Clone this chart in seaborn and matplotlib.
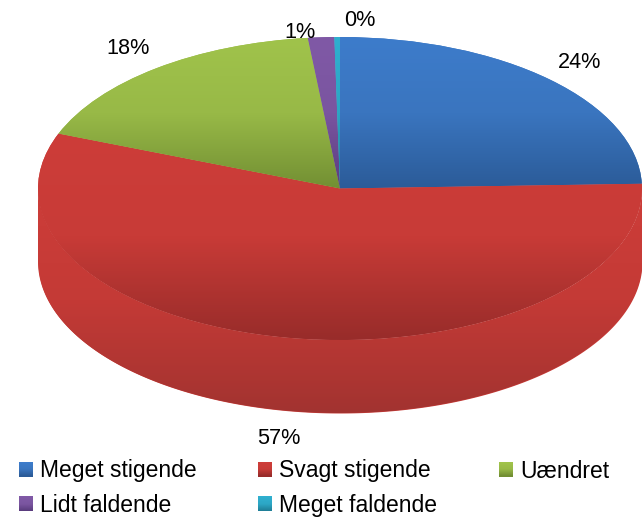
import numpy as np
import seaborn as sns
import matplotlib.pyplot as plt
from matplotlib.legend_handler import HandlerBase
from matplotlib.patches import Patch, Rectangle

W, H = 642, 518

# slices, clockwise from 12 o'clock
categories = ['Meget stigende', 'Svagt stigende', 'Uændret', 'Lidt faldende', 'Meget faldende']
values = [24.5, 56.4, 17.4, 1.4, 0.3]
pct_labels = ['24%', '57%', '18%', '1%', '0%']

# gradient stops of each slice, top / middle / bottom
tops = ['#3d7ccb', '#cd3d39', '#a0c34b', '#8059a6', '#2fafcf']
mids = ['#3a75bf', '#c83b37', '#98b947', '#7a55a0', '#2ca6c4']
bottoms = ['#2b5b98', '#982c2a', '#728f33', '#5a3c7e', '#1f7f98']
wall_stops = ['#a23330', '#c43a36', '#cd3d39']

# pixel layout of the pie and the percent labels
cx, cy, rx, ry, depth = 340, 188.5, 302, 151.5, 73
label_pos = [(580, 62), (279, 439), (128, 49), (300, 32), (360, 21)]

sns.set_theme(style='white')
plt.rcParams['font.family'] = ['Liberation Sans', 'DejaVu Sans']

fig = plt.figure(figsize=(W / 100, H / 100), dpi=100)
ax = fig.add_axes([0, 0, 1, 1])


def gradient(stops, y0, y1, clip, transform=None, z=2):
  cmap = sns.blend_palette(stops, as_cmap=True)
  im = ax.imshow(np.linspace(1, 0, 256).reshape(-1, 1), cmap=cmap, vmin=0, vmax=1,
                 extent=(-1, 1, y0, y1), origin='upper', aspect='auto', zorder=z)
  if transform is None:
    im.set_clip_path(clip)
  else:
    im.set_clip_path(clip, transform)


wedges, _ = ax.pie(values, startangle=90, counterclock=False, radius=1, colors=mids,
                   wedgeprops={'linewidth': 0, 'zorder': 1.5})

# side wall of the cake, only the red slice is seen from the front
t = np.linspace(np.pi, 2 * np.pi, 300)
wall = ax.fill_between(np.cos(t), np.sin(t) - depth / ry, np.sin(t), color=mids[1], lw=0, zorder=1)
gradient(wall_stops, -1 - depth / ry, 0, wall.get_paths()[0], ax.transData, z=1.2)

for i, w in enumerate(wedges):
  box = w.get_path().get_extents()
  w.set_zorder(1.5)
  gradient([bottoms[i], mids[i], tops[i]], box.y0, box.y1, w)

ax.set_aspect('auto')
ax.set_xlim(-cx / rx, (W - cx) / rx)
ax.set_ylim((cy - H) / ry, cy / ry)
ax.axis('off')

for lab, (px, py) in zip(pct_labels, label_pos):
  fig.text(px / W, 1 - py / H, lab, fontsize=15.6, color='black', ha='center', va='center')


class GradientKey(HandlerBase):
  def create_artists(self, legend, orig, xd, yd, width, height, fontsize, trans):
    i = categories.index(orig.get_label())
    cols = sns.blend_palette([tops[i], mids[i], bottoms[i]], 14)
    rects = []
    for k, c in enumerate(cols):
      rects.append(Rectangle((-xd, -yd + height * (1 - (k + 1) / 14)), width, height / 14 + 0.3,
                             facecolor=c, edgecolor='none', transform=trans))
    return rects


# matplotlib fills columns first
order = [0, 3, 1, 4, 2]
handles = [Patch(label=categories[i]) for i in order]
ax.legend(handles=handles, handler_map={Patch: GradientKey()}, ncol=3, frameon=False,
          fontsize=16.5, labelcolor='black', handlelength=0.61, handleheight=0.61, handletextpad=0.3,
          columnspacing=2.7, labelspacing=0.51, borderpad=0, borderaxespad=0,
          loc='upper left', bbox_to_anchor=(19 / W, 1 - 459.5 / H))

fig.savefig('out.png', dpi=100)
